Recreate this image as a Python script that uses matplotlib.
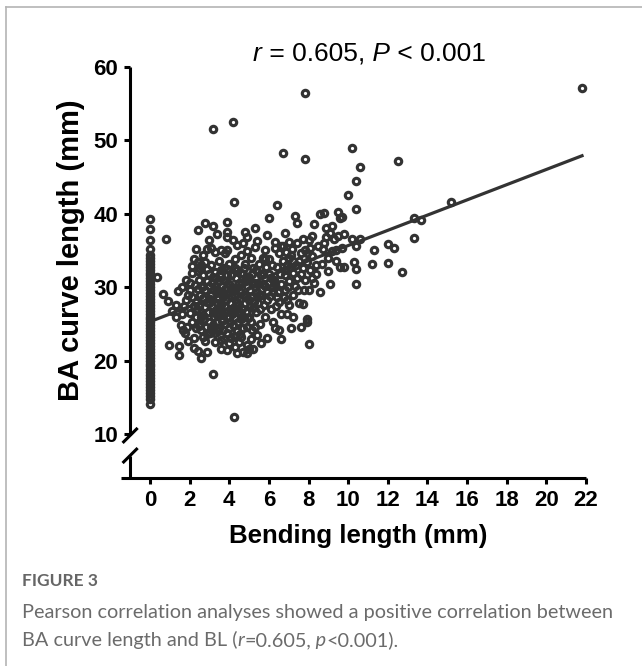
import matplotlib.pyplot as plt
from matplotlib.lines import Line2D

plt.rcParams['font.family'] = ['Liberation Sans', 'DejaVu Sans']

DARK = '#333333'

# BA curve length (mm) of the cases with a bending length of 0
ba_zero = [39.3, 37.9, 36.4, 35.2, 34.4, 34.0, 33.6, 33.2, 32.8, 32.4, 32.0, 31.6,
           31.2, 30.8, 30.4, 30.0, 29.6, 29.2, 28.8, 28.4, 28.0, 27.6, 27.2, 26.8,
           26.4, 26.0, 25.6, 25.2, 24.8, 24.4, 24.0, 23.6, 23.2, 22.8, 22.4, 22.0,
           21.6, 21.2, 20.8, 20.4, 20.0, 19.6, 19.2, 18.8, 18.4, 18.0, 17.6, 17.2,
           16.8, 16.4, 16.0, 15.6, 15.2, 14.8, 14.1]

# the other cases, bending length (mm) and BA curve length (mm), same order
bl_vals = [
    0.35, 0.8, 0.66, 0.9, 1.3, 0.96, 1.46, 1.46, 1.1, 1.4, 1.3,
    1.55, 1.65, 1.75, 1.85, 1.6, 1.7, 1.8, 1.9, 1.6, 1.8, 2.0, 2.1, 2.2, 2.1, 2.4, 2.0,
    2.1, 2.2, 2.0, 2.3, 2.1, 2.3, 2.2, 2.2, 2.4, 2.4, 2.5, 2.4, 2.5, 2.5, 2.4,
    2.6, 2.6, 2.6, 2.7, 2.8, 2.8, 2.9, 2.9, 2.9, 3.1, 3.2, 3.3, 3.1, 3.2, 3.3, 2.7,
    2.8, 2.7, 2.8, 2.9, 2.7, 3.0, 3.0, 3.1, 3.0, 3.2, 3.3, 3.1, 3.2, 3.4, 3.3, 3.4,
    3.4, 3.5, 3.5, 3.5, 3.6, 3.6,
    3.8, 3.9, 3.9, 3.9, 3.9, 3.9, 3.7, 3.8, 3.7, 3.8, 3.7, 3.8, 3.9, 4.0, 4.1, 4.3,
    4.5, 4.4, 4.7, 4.0, 4.1, 4.0, 4.2, 4.4, 4.25, 4.1, 4.2, 4.0, 4.2, 4.4, 4.3, 4.4,
    4.3, 4.5, 4.4, 4.3, 4.5, 4.25,
    4.8, 4.9, 4.9, 4.7, 4.6, 4.8, 4.7, 4.9, 4.7, 4.8, 4.6, 4.9, 4.6, 4.9, 5.0, 4.9,
    5.3, 5.4, 5.3, 5.1, 5.2, 5.0, 5.3, 5.1, 5.2, 5.0, 5.3, 5.4, 5.1, 5.5, 5.5,
    5.9, 6.3, 6.0, 6.4, 5.8, 6.0, 5.7, 6.1, 5.8, 6.2, 5.9, 6.1, 5.8, 6.2, 5.9, 6.3,
    6.5, 6.4, 6.5, 6.3, 6.5, 6.6,
    6.7, 6.8, 7.0, 7.3, 7.4, 7.1, 6.9, 7.2, 7.0, 6.8, 7.2, 7.0, 7.5, 7.2, 7.1, 6.9,
    7.4, 7.5, 7.4, 6.8, 6.7,
    7.9, 7.9, 8.0, 7.7, 8.0, 7.8, 8.1, 7.9, 8.2, 7.8, 8.0, 8.2, 7.8, 7.8, 8.3, 8.4,
    8.3, 8.5, 8.4, 8.6,
    8.6, 8.8, 8.8, 9.2, 9.2, 9.0, 9.5, 9.6, 9.8, 9.6, 9.8, 9.7, 10.0, 10.2, 10.6, 10.4,
    10.3, 10.4, 10.4, 10.4, 10.4, 10.6, 10.2, 9.0, 9.3, 8.9, 9.4, 9.1, 9.7,
    11.2, 11.3, 12.0, 12.3, 12.0, 12.7, 12.5, 13.3, 13.7, 13.3, 15.2, 21.8, 3.2, 4.2,
]
ba_vals = [
    31.4, 36.6, 29.1, 28.1, 27.6, 22.1, 22.0, 20.8, 26.8, 29.5, 25.9,
    24.9, 24.2, 23.8, 24.6, 26.4, 27.4, 28.2, 28.9, 30.0, 31.0, 30.6, 31.9, 33.8, 32.9, 33.4, 29.6,
    28.7, 27.5, 26.5, 26.0, 25.2, 24.4, 23.1, 21.7, 21.3, 29.8, 31.0, 32.2, 27.4, 25.0, 37.8,
    33.0, 20.4, 24.2, 23.2, 33.4, 38.7, 35.2, 32.5, 21.2, 35.3, 38.3, 34.8, 24.4, 18.2, 22.5, 26.2,
    27.3, 28.5, 29.6, 30.8, 31.6, 25.3, 27.8, 29.0, 30.2, 31.4, 32.1, 33.0, 26.6, 25.2, 23.8, 27.9,
    29.6, 30.8, 33.6, 24.4, 32.3, 22.8,
    34.7, 35.1, 38.9, 37.5, 36.8, 32.5, 31.0, 29.8, 28.6, 27.4, 26.2, 25.0, 23.8, 22.4, 23.1, 21.9,
    22.5, 21.0, 21.2, 30.5, 31.7, 33.2, 36.4, 35.7, 41.6, 28.8, 27.2, 26.0, 24.8, 24.0, 25.8, 28.0,
    29.6, 30.6, 32.4, 33.8, 26.8, 12.3,
    37.5, 34.9, 36.8, 36.0, 34.4, 33.2, 31.8, 30.2, 29.0, 27.8, 25.6, 24.6, 23.2, 22.1, 21.6, 21.0,
    38.1, 36.3, 35.5, 34.0, 32.6, 31.4, 30.0, 28.6, 27.2, 26.0, 24.6, 23.5, 23.0, 29.0, 33.2,
    37.1, 36.2, 39.4, 41.2, 35.0, 33.8, 32.0, 31.2, 30.2, 29.4, 28.2, 27.0, 26.0, 25.2, 23.1, 24.4,
    24.2, 32.8, 34.6, 30.4, 28.0, 26.4,
    35.6, 37.4, 36.2, 39.7, 38.7, 34.4, 33.0, 32.0, 30.8, 29.6, 29.0, 27.6, 27.8, 25.9, 24.4, 26.4,
    31.2, 33.6, 36.0, 31.6, 48.3,
    25.7, 25.3, 22.3, 27.7, 29.6, 31.0, 32.4, 33.4, 34.2, 35.0, 36.4, 37.0, 47.5, 56.5, 30.6, 33.0,
    38.6, 35.6, 31.8, 29.4,
    40.0, 40.1, 36.0, 34.9, 38.3, 32.2, 40.2, 39.4, 37.2, 32.8, 32.8, 39.6, 42.5, 36.6, 36.6, 35.6,
    33.4, 32.5, 30.5, 40.7, 44.4, 46.4, 49.0, 34.0, 36.6, 38.0, 33.6, 30.4, 35.4,
    33.2, 35.1, 35.9, 35.3, 33.3, 32.1, 47.2, 39.4, 39.2, 36.7, 41.6, 57.2, 51.6, 52.5,
]

# the packed middle of the cloud
bl_core = [
    2.25, 2.35, 2.45, 2.55, 2.65, 2.75, 2.85, 2.95, 3.05, 3.05,
    3.15, 3.15, 3.25, 3.25, 3.35, 3.35, 3.45, 3.45, 3.55, 3.55,
    3.6, 3.65, 3.65, 3.7, 3.75, 3.85, 3.85, 3.95, 3.95, 4.05,
    4.05, 4.15, 4.15, 4.25, 4.25, 4.35, 4.35, 4.45, 4.55, 4.55,
    4.65, 4.65, 4.75, 4.75, 4.85, 4.95, 4.95, 5.05, 5.05, 5.15,
    5.15, 5.25, 5.35, 5.35, 5.45, 5.45, 5.55, 5.6, 5.65, 5.7,
    5.75, 5.85, 5.95, 6.05, 6.15, 6.25, 6.35, 6.45, 6.55, 6.6,
    6.7, 6.75, 6.85, 6.95, 7.05, 7.15, 7.3, 7.35, 7.6, 7.6,
    7.7, 7.75, 8.1, 8.2, 8.7, 8.75, 8.9, 9.1, 9.4, 9.5,
    2.3, 2.7, 3.0, 3.6, 3.4, 1.9, 2.8, 3.9, 3.6, 5.6,
    5.2, 6.6, 7.6,
    2.6, 2.9, 3.0, 3.2, 3.4, 3.5, 3.7, 3.8, 3.9, 4.0,
    4.1, 4.2, 4.3, 4.45, 4.6, 4.7, 4.8, 4.85, 5.0, 5.1,
    5.25, 5.4, 5.55, 5.7, 5.9, 6.0, 6.2, 6.4, 6.6, 6.8,
    7.0, 7.2, 7.45, 7.7, 7.9, 2.3, 2.5, 2.9, 3.3, 3.55,
    3.75, 4.6, 5.8, 6.3, 6.9,
]
ba_core = [
    30.3, 27.0, 24.7, 28.9, 30.0, 25.6, 24.6, 26.6, 23.8, 28.4,
    27.4, 30.6, 25.9, 29.6, 26.9, 31.2, 24.0, 28.4, 26.4, 29.3,
    27.6, 25.4, 30.2, 24.2, 32.6, 28.2, 30.8, 26.8, 29.2, 25.2,
    27.8, 30.0, 26.4, 23.4, 29.0, 27.0, 31.2, 25.2, 28.4, 23.6,
    27.0, 30.6, 26.0, 32.6, 28.8, 31.0, 25.8, 27.4, 29.6, 24.2,
    31.8, 28.0, 26.6, 32.4, 30.4, 27.8, 25.0, 31.6, 29.0, 34.0,
    27.6, 32.8, 30.6, 28.8, 33.0, 31.0, 27.4, 29.4, 31.8, 35.6,
    33.6, 28.6, 34.8, 30.0, 32.8, 35.2, 30.2, 33.0, 34.6, 31.8,
    36.6, 29.6, 35.4, 31.2, 33.2, 35.2, 36.8, 37.4, 35.0, 37.0,
    35.2, 34.4, 36.4, 35.0, 37.2, 22.6, 22.6, 21.4, 21.6, 22.4,
    21.6, 23.0, 24.6,
    26.0, 28.0, 31.8, 24.8, 26.2, 27.2, 29.2, 26.6, 31.6, 24.4,
    26.8, 29.6, 32.6, 27.6, 29.4, 24.4, 30.8, 26.6, 28.2, 25.2,
    30.6, 29.4, 27.0, 30.4, 29.4, 31.8, 30.0, 28.6, 30.4, 32.4,
    34.0, 33.6, 29.6, 32.6, 34.6, 28.0, 32.6, 23.6, 30.2, 31.8,
    23.0, 32.0, 33.8, 35.4, 28.2,
]

# fitted line
fit_intercept = 25.3
fit_slope = 1.037

x_ticks = list(range(0, 23, 2))
y_ticks = [10, 20, 30, 40, 50, 60]

fig = plt.figure(figsize=(6.42, 6.66), dpi=100)
ax = fig.add_axes([121 / 642, 1 - 478 / 666, 465 / 642, 411 / 666])

pts = list(zip(bl_vals, ba_vals, strict=True)) + list(zip(bl_core, ba_core, strict=True))
xs = [0.0] * len(ba_zero) + [p[0] for p in pts]
ys = ba_zero + [p[1] for p in pts]
ax.plot(xs, ys, 'o', ms=4.6, mfc='none', mec=DARK, mew=2.25, clip_on=False, zorder=3)

x_end = max(bl_vals)
ax.plot([0, x_end], [fit_intercept, fit_intercept + fit_slope * x_end],
        color=DARK, lw=2.3, zorder=2)

ax.set_xlim(-1.46, 22.0)
ax.set_ylim(4, 60)
for s in ['top', 'right']:
    ax.spines[s].set_visible(False)
ax.spines['left'].set_position(('data', -1.0))
ax.spines['left'].set_bounds(9.8, 60)
for s in ['left', 'bottom']:
    ax.spines[s].set_linewidth(2.2)
    ax.spines[s].set_color('black')
    ax.spines[s].set_capstyle('butt')

# broken y axis: the short stub and two slashes
brk = dict(color='black', lw=2.2, clip_on=False, solid_capstyle='butt')
ax.plot([-1.0, -1.0], [4, 7.06], **brk)
ax.plot([-1.38, -0.62], [8.78, 10.82], **brk)
ax.plot([-1.38, -0.62], [6.04, 8.08], **brk)

ax.set_xticks(x_ticks)
ax.set_yticks(y_ticks)
ax.tick_params(direction='out', length=4.5, width=2.2, labelsize=16, pad=4)
for lab in ax.get_xticklabels() + ax.get_yticklabels():
    lab.set_fontweight('bold')

ax.set_xlabel('Bending length (mm)', fontsize=18.6, fontweight='bold')
ax.xaxis.set_label_coords(0.51, -0.112)
ax.set_ylabel('BA curve length (mm)', fontsize=21, fontweight='bold')
ax.yaxis.set_label_coords(-0.078, 0.555)


def put_runs(x, y, runs, **kw):
    # place text pieces one after another (needed for mixed italic)
    r = fig.canvas.get_renderer()
    for s, style in runs:
        t = fig.text(x, y, s, fontstyle=style, **kw)
        x += t.get_window_extent(r).width / fig.bbox.width
    return x


put_runs(253 / 642, 1 - 61 / 666,
         [('r', 'italic'), (' = 0.605,', 'normal'), (' P', 'italic'), (' < 0.001', 'normal')],
         fontsize=19, color='black')

cap = dict(family=['Lato', 'DejaVu Sans'], color='#6b6b6b', va='baseline')
fig.text(22 / 642, 1 - 586 / 666, 'FIGURE 3', fontsize=12.5, fontweight='bold',
         family=['Lato', 'DejaVu Sans'], color='#666666')
fig.text(22 / 642, 1 - 618 / 666,
         'Pearson correlation analyses showed a positive correlation between',
         fontsize=14.3, **cap)
put_runs(22 / 642, 1 - 646 / 666,
         [('BA curve length and BL (', 'normal'), ('r', 'italic'), ('=0.605,', 'normal'),
          (' p', 'italic'), ('<0.001).', 'normal')],
         fontsize=14.3, **cap)

# page frame, top and left
fig.add_artist(Line2D([6 / 642, 6 / 642], [0, 1 - 7 / 666], color='#b4b4b4', lw=1.2))
fig.add_artist(Line2D([6 / 642, 1], [1 - 7 / 666, 1 - 7 / 666], color='#b4b4b4', lw=1.2))

fig.savefig('out.png', dpi=100)
